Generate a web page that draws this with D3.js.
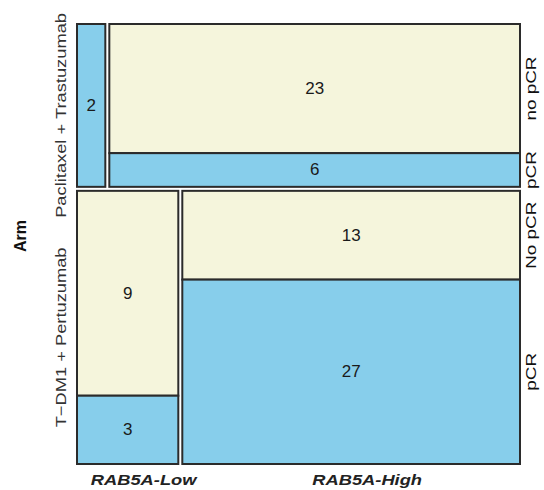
<!DOCTYPE html>
<html>
<head>
<meta charset="utf-8">
<script src="https://cdn.jsdelivr.net/npm/d3@7"></script>
<style>
  html, body { margin: 0; padding: 0; background: #fff; }
  svg { display: block; }
</style>
</head>
<body>
<svg id="chart" width="544" height="490"></svg>
<script>
// Treatment arms (rows), RAB5A groups (columns), response levels within each cell
const arms = ["Paclitaxel + Trastuzumab", "T\u2212DM1 + Pertuzumab"];
const groups = ["RAB5A-Low", "RAB5A-High"];
const responseLabels = [["no pCR", "pCR"], ["No pCR", "pCR"]];

// Counts per arm, per RAB5A group
const noPCR = [[0, 23], [9, 13]];
const pCR   = [[2, 6], [3, 27]];

const fills = { noPCR: "#F5F5DC", pCR: "#87CEEB" };
const edge = "#2b2b2b";

const svg = d3.select("#chart");
const plotL = 77, plotR = 520, plotT = 24, plotB = 464, gap = 4;
const stretch = 1.22;

const rowTotals = arms.map((_, i) => d3.sum(noPCR[i]) + d3.sum(pCR[i]));
const grand = d3.sum(rowTotals);

// Row heights are proportional to arm totals
const yRow = d3.scaleLinear().domain([0, grand]).range([plotT, plotB - gap * (arms.length - 1)]);
const rowCum = [0, ...d3.cumsum(rowTotals)];

const g = svg.append("g");

arms.forEach((arm, i) => {
  const rTop = yRow(rowCum[i]) + gap * i;
  const rBot = yRow(rowCum[i + 1]) + gap * i;
  const colTotals = groups.map((_, j) => noPCR[i][j] + pCR[i][j]);
  // Column widths within the row are proportional to group totals
  const xCol = d3.scaleLinear().domain([0, rowTotals[i]]).range([plotL, plotR - gap * (groups.length - 1)]);
  const colCum = [0, ...d3.cumsum(colTotals)];

  groups.forEach((grp, j) => {
    const cx0 = xCol(colCum[j]) + gap * j;
    const cx1 = xCol(colCum[j + 1]) + gap * j;
    const yCell = d3.scaleLinear().domain([0, colTotals[j]]).range([rTop, rBot]);
    const parts = [
      { key: "noPCR", v: noPCR[i][j], a: 0, b: noPCR[i][j] },
      { key: "pCR", v: pCR[i][j], a: noPCR[i][j], b: colTotals[j] }
    ].filter(p => p.v > 0);

    parts.forEach(p => {
      g.append("rect")
        .attr("x", cx0).attr("y", yCell(p.a))
        .attr("width", cx1 - cx0).attr("height", yCell(p.b) - yCell(p.a))
        .attr("fill", fills[p.key])
        .attr("stroke", edge).attr("stroke-width", 2);
      g.append("text")
        .attr("x", (cx0 + cx1) / 2).attr("y", (yCell(p.a) + yCell(p.b)) / 2)
        .attr("text-anchor", "middle").attr("dominant-baseline", "central")
        .attr("font-family", "Liberation Sans, Arial, sans-serif")
        .attr("font-size", 17).attr("fill", "#1a1a1a")
        .text(p.v);
    });

    // Response labels on the right, aligned with the last column's split
    if (j === groups.length - 1) {
      const rl = [
        { t: responseLabels[i][0], a: 0, b: noPCR[i][j] },
        { t: responseLabels[i][1], a: noPCR[i][j], b: colTotals[j] }
      ];
      rl.forEach(r => {
        const yc = (yCell(r.a) + yCell(r.b)) / 2;
        g.append("text")
          .attr("transform", `translate(531,${yc}) rotate(-90) scale(1.35,1)`)
          .attr("text-anchor", "middle").attr("dominant-baseline", "central")
          .attr("font-family", "Liberation Sans, Arial, sans-serif")
          .attr("font-size", 14).attr("fill", "#111")
          .text(r.t);
      });
    }
  });

  // Arm label on the left
  const yc = (rTop + rBot) / 2 + 10;
  g.append("text")
    .attr("transform", `translate(61,${yc}) rotate(-90) scale(${stretch},1)`)
    .attr("text-anchor", "middle").attr("dominant-baseline", "central")
    .attr("font-family", "Liberation Sans, Arial, sans-serif")
    .attr("font-size", 15).attr("fill", "#333")
    .text(arm);
});

// Group labels along the bottom, using the bottom row's column split
{
  const i = arms.length - 1;
  const colTotals = groups.map((_, j) => noPCR[i][j] + pCR[i][j]);
  const xCol = d3.scaleLinear().domain([0, rowTotals[i]]).range([plotL, plotR - gap * (groups.length - 1)]);
  const colCum = [0, ...d3.cumsum(colTotals)];
  groups.forEach((grp, j) => {
    const xc = (xCol(colCum[j]) + xCol(colCum[j + 1])) / 2 + gap * j + 16;
    g.append("text")
      .attr("transform", `translate(${xc},480) scale(${stretch},1)`)
      .attr("text-anchor", "middle").attr("dominant-baseline", "central")
      .attr("font-family", "Liberation Sans, Arial, sans-serif")
      .attr("font-size", 15).attr("font-weight", "bold").attr("font-style", "italic")
      .attr("fill", "#222")
      .text(grp);
  });
}

// Axis title
g.append("text")
  .attr("transform", "translate(20,236) rotate(-90)")
  .attr("text-anchor", "middle").attr("dominant-baseline", "central")
  .attr("font-family", "Liberation Sans, Arial, sans-serif")
  .attr("font-size", 16).attr("font-weight", "bold").attr("fill", "#111")
  .text("Arm");
</script>
</body>
</html>
